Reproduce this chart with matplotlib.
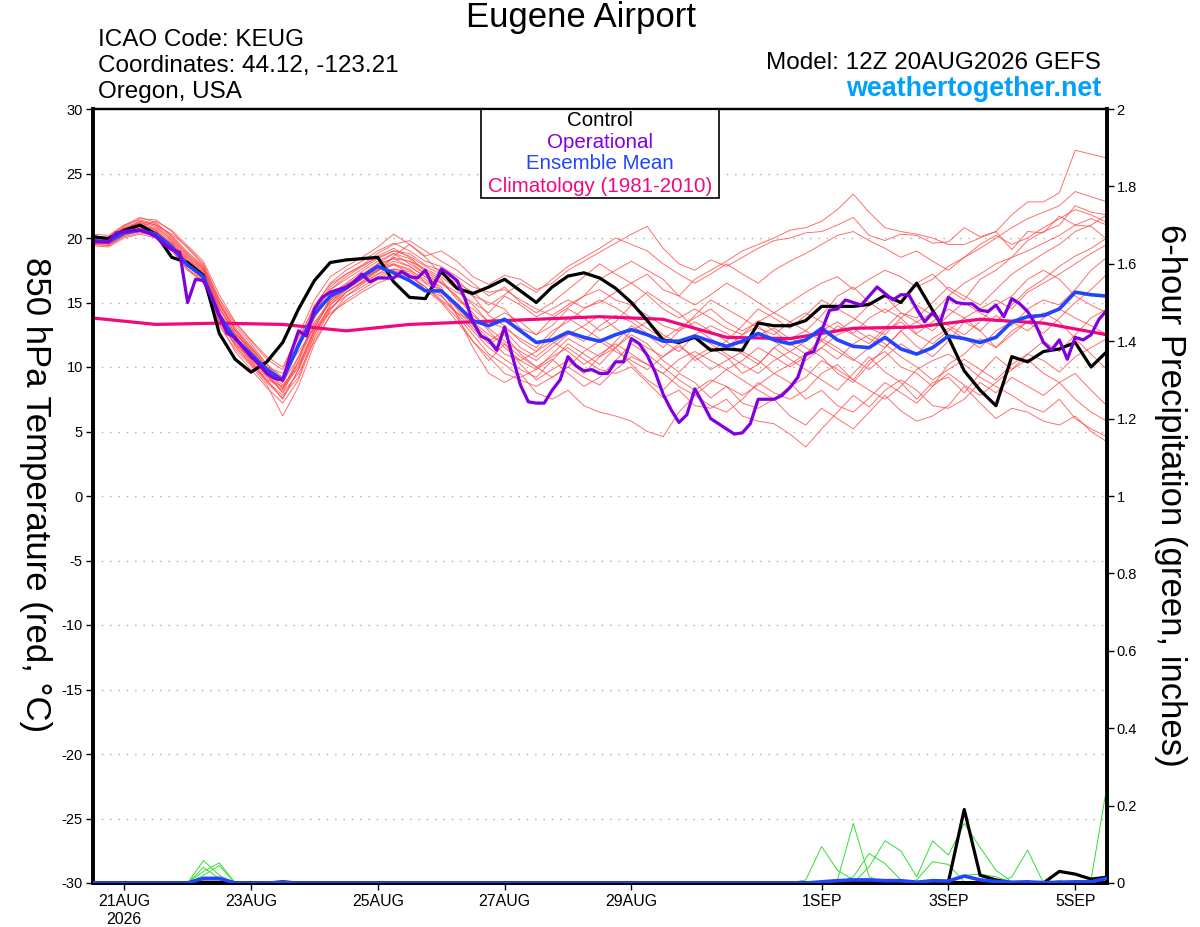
import matplotlib
matplotlib.use("Agg")
import matplotlib.pyplot as plt
from matplotlib.patches import Rectangle

plt.rcParams['font.family'] = ['Liberation Sans', 'DejaVu Sans']

# ---------------- data ----------------
# 6-hourly forecast hours from 12Z 20AUG2026
hours6 = list(range(0, 385, 6))
hours3 = list(range(0, 385, 3))
hours24 = list(range(0, 385, 24))

tick_hours = [12, 60, 108, 156, 204, 276, 324, 372]
tick_labels = ["21AUG\n2026", "23AUG", "25AUG", "27AUG", "29AUG", "1SEP", "3SEP", "5SEP"]

control_t = [20.1, 19.95, 20.6, 21.0, 20.3, 18.5, 18.1, 17.1, 12.6, 10.6, 9.6, 10.4, 11.9,
             14.5, 16.7, 18.1, 18.3, 18.4, 18.5, 16.6, 15.4, 15.3, 17.4, 16.1, 15.7,
             16.2, 16.8, 15.9, 15.0, 16.2, 17.05, 17.3, 16.9, 16.1, 15.0, 13.6, 12.1,
             11.9, 12.3, 11.3, 11.4, 11.3, 13.4, 13.2, 13.2, 13.6, 14.7, 14.7, 14.7,
             14.85, 15.55, 15.0, 16.5, 14.4, 12.3, 9.7, 8.2, 7.0, 10.8, 10.4, 11.2,
             11.4, 11.9, 10.0, 11.2]

mean_t = [19.8, 19.7, 20.4, 20.6, 20.3, 19.3, 17.9, 17.0, 14.0, 12.2, 11.0, 9.8, 9.0,
          11.7, 14.1, 15.5, 16.1, 17.0, 17.8, 17.3, 16.7, 15.9, 15.9, 14.8, 13.6,
          13.2, 13.7, 12.8, 11.9, 12.1, 12.7, 12.3, 12.0, 12.5, 12.9, 12.5, 12.0,
          12.0, 12.4, 12.0, 11.6, 12.0, 12.6, 12.1, 11.8, 12.1, 13.0, 12.1, 11.6,
          11.5, 12.3, 11.4, 11.0, 11.5, 12.4, 12.2, 11.9, 12.3, 13.5, 13.9, 14.0,
          14.5, 15.8, 15.6, 15.5]

operational_t = [19.7, 19.7, 19.7, 20.4, 20.5, 20.6, 20.6, 20.4, 20.1, 19.5, 19.1, 18.9,
                 15.0, 16.8, 16.7, 15.5, 14.0, 12.6, 12.3, 11.5, 10.8, 10.2, 9.5, 9.1,
                 9.0, 11.0, 12.8, 12.4, 14.5, 15.4, 15.8, 16.0, 16.2, 16.6, 17.2, 16.6,
                 16.9, 16.9, 16.9, 17.4, 17.0, 16.9, 17.5, 16.2, 17.6, 17.2, 16.7, 15.3,
                 13.5, 12.4, 12.1, 11.3, 13.1, 10.8, 8.6, 7.3, 7.2, 7.2, 8.2, 9.0,
                 10.8, 10.1, 9.7, 9.8, 9.5, 9.5, 10.4, 10.4, 12.2, 11.8, 10.9, 9.6,
                 7.9, 6.7, 5.7, 6.3, 8.3, 7.2, 6.0, 5.6, 5.2, 4.8, 4.9, 5.6,
                 7.5, 7.5, 7.5, 7.8, 8.4, 9.2, 11.0, 11.2, 12.8, 14.4, 14.5, 15.2,
                 15.0, 14.8, 15.5, 16.2, 15.7, 15.2, 15.6, 15.6, 14.5, 13.5, 14.2, 13.5,
                 15.4, 15.0, 14.9, 14.9, 14.4, 14.3, 14.8, 13.9, 15.3, 14.9, 14.3, 13.3,
                 11.9, 11.3, 12.1, 10.6, 12.3, 12.1, 12.5, 13.7, 14.4]

climatology_t = [13.8, 13.3, 13.4, 13.3, 12.8, 13.3, 13.5, 13.7, 13.9, 13.7, 12.3, 12.2,
                 13.0, 13.1, 13.7, 13.4, 12.5]

m01 = [20.1, 19.9, 20.8, 21.2, 20.9, 19.8, 18.5, 17.5, 14.8, 12.8, 11.2, 9.5, 8.0,
       10.5, 13.8, 15.6, 16.5, 17.4, 18.2, 18.8, 18.0, 17.2, 16.5, 15.8, 15.0,
       14.2, 15.5, 14.8, 13.9, 14.5, 15.2, 14.6, 15.0, 15.8, 16.5, 17.2, 16.0, 15.5, 16.8, 17.5, 18.2, 19.0, 19.5, 20.0, 20.6,
       20.8, 21.3, 22.2, 23.4, 22.0, 20.8, 20.5, 20.3, 20.0, 19.5, 19.5, 20.0, 20.5, 21.8, 22.8, 22.8, 23.5, 26.8, 26.5, 26.2]
m02 = [19.8, 19.6, 20.5, 20.9, 21.3, 20.6, 19.4, 18.2, 15.6, 13.5, 12.1, 10.8, 10.0,
       12.5, 15.2, 17.0, 17.8, 18.5, 19.3, 20.3, 19.5, 18.6, 19.0, 18.2, 17.0,
       16.4, 17.1, 16.8, 16.0, 16.5, 17.5, 18.2, 18.9, 19.6, 20.3, 20.9, 19.2, 18.0, 17.5, 18.3, 17.8, 18.5, 19.2, 19.8, 20.0,
       20.4, 20.5, 21.0, 21.6, 20.2, 19.8, 20.3, 20.2, 19.6, 19.7, 20.8, 20.1, 20.5, 19.1, 20.5, 20.4, 21.7, 21.0, 20.9, 19.9]
m03 = [19.5, 19.4, 20.1, 20.4, 20.2, 19.1, 17.6, 16.5, 13.2, 11.4, 10.1, 8.6, 6.2,
       8.5, 11.8, 14.0, 15.2, 16.0, 16.8, 17.5, 17.0, 16.2, 15.1, 13.8, 12.0,
       10.5, 11.8, 10.2, 9.0, 9.8, 10.5, 9.5, 10.8, 11.5, 10.2, 9.0, 8.2, 9.5, 8.8, 7.6, 8.5, 7.2, 6.8, 7.5, 6.2,
       5.5, 6.8, 6.0, 5.2, 6.5, 7.8, 6.6, 5.8, 6.2, 7.0, 8.5, 7.2, 6.0, 6.8, 6.5, 5.8, 5.5, 6.2, 5.0, 4.2]
m04 = [20.0, 19.8, 20.6, 21.0, 20.4, 19.5, 18.2, 17.2, 14.0, 12.0, 10.5, 9.0, 7.5,
       9.8, 12.5, 14.8, 16.0, 16.9, 17.6, 18.0, 17.6, 16.6, 16.0, 14.5, 13.0,
       11.8, 12.5, 11.0, 10.0, 10.8, 11.5, 10.6, 9.8, 9.5, 10.0, 8.8, 7.6, 8.2, 7.0, 6.8, 7.5, 6.2, 5.8, 5.6, 4.8,
       3.8, 5.2, 6.5, 7.8, 6.9, 8.2, 9.0, 8.2, 7.0, 6.8, 7.5, 8.8, 8.0, 9.2, 8.5, 7.8, 8.8, 9.5, 8.2, 7.0]
m05 = [19.7, 19.5, 20.3, 20.8, 20.5, 19.6, 18.0, 16.8, 13.5, 11.8, 10.6, 9.2, 8.2,
       10.8, 13.5, 15.0, 16.2, 17.0, 18.0, 18.4, 17.8, 17.0, 16.2, 14.0, 11.5,
       9.5, 8.8, 9.5, 8.0, 7.5, 8.2, 7.0, 6.5, 6.2, 5.8, 5.0, 4.6, 6.5, 7.8, 7.0, 6.5, 7.5, 8.8, 8.0, 7.5,
       8.2, 9.5, 10.2, 9.0, 10.5, 11.2, 10.0, 9.5, 8.5, 10.2, 11.0, 12.2, 11.5, 12.8, 13.5, 12.6, 13.8, 15.0, 16.0, 17.2]
m06 = [19.9, 20.0, 20.9, 21.5, 21.4, 20.5, 19.2, 17.9, 15.2, 13.2, 11.8, 10.2, 9.2,
       12.0, 14.8, 16.4, 17.2, 17.8, 18.5, 19.0, 18.8, 17.9, 17.5, 16.2, 15.5,
       15.0, 14.5, 13.0, 12.5, 13.8, 14.6, 15.5, 16.0, 15.2, 14.8, 14.0, 13.2, 12.8, 14.0, 15.2, 14.5, 13.8, 13.0, 12.5, 13.5,
       14.2, 13.5, 12.8, 13.6, 14.8, 15.5, 14.2, 13.8, 15.0, 16.2, 15.5, 14.8, 16.0, 17.2, 18.0, 18.8, 19.5, 20.5, 21.0, 21.8]
m07 = [19.6, 19.7, 20.4, 20.7, 20.8, 19.9, 18.6, 17.6, 14.5, 12.5, 11.5, 10.0, 9.5,
       11.2, 13.0, 15.2, 16.0, 16.8, 17.5, 18.6, 19.5, 18.5, 17.2, 16.8, 15.5,
       14.0, 13.2, 12.0, 11.2, 12.5, 13.8, 13.0, 12.2, 11.5, 12.8, 13.5, 12.5, 11.8, 10.5, 11.2, 12.0, 11.0, 10.2, 11.5, 12.3,
       11.5, 10.8, 9.5, 8.8, 10.2, 11.5, 12.8, 11.6, 10.8, 12.0, 13.5, 12.8, 14.0, 13.2, 14.5, 15.2, 14.8, 16.0, 17.5, 18.5]
m08 = [20.2, 20.0, 20.7, 21.1, 20.6, 19.4, 17.8, 16.8, 13.8, 11.6, 10.2, 9.0, 8.5,
       10.0, 12.8, 14.6, 15.5, 16.4, 17.2, 18.0, 17.2, 16.0, 15.5, 14.2, 12.8,
       11.5, 10.6, 9.8, 9.2, 10.5, 11.8, 11.0, 10.2, 11.5, 12.5, 11.8, 10.5, 9.6, 10.8, 11.5, 10.8, 9.5, 10.2, 11.5, 10.6,
       9.8, 9.0, 8.2, 9.5, 10.8, 9.6, 8.8, 7.5, 8.8, 9.2, 8.0, 9.5, 10.8, 9.8, 11.0, 12.0, 11.2, 12.5, 13.8, 14.5]
m09 = [19.8, 19.5, 20.2, 20.6, 20.1, 19.0, 17.5, 16.6, 13.4, 11.2, 9.8, 8.4, 7.2,
       9.0, 12.2, 14.4, 15.8, 16.6, 17.5, 17.9, 17.5, 16.8, 15.8, 14.8, 13.2,
       12.0, 12.8, 11.5, 10.8, 11.8, 12.6, 12.0, 13.2, 14.0, 13.5, 12.6, 12.0, 11.2, 12.5, 13.2, 12.6, 11.8, 12.5, 13.0, 12.2,
       12.8, 14.0, 15.5, 16.2, 15.0, 14.2, 15.0, 16.5, 17.2, 16.0, 15.2, 16.8, 17.5, 18.5, 19.8, 20.5, 21.0, 22.5, 22.0, 21.8]
m10 = [20.0, 20.1, 21.0, 21.6, 21.2, 20.1, 18.8, 17.7, 15.0, 12.9, 11.5, 10.0, 8.8,
       11.5, 14.2, 16.0, 17.0, 17.8, 18.6, 19.2, 18.5, 17.5, 16.8, 15.2, 14.5,
       13.5, 13.0, 12.2, 11.5, 12.8, 13.5, 14.5, 15.2, 14.6, 13.8, 13.0, 12.2, 13.0, 13.8, 14.5, 13.5, 12.8, 13.5, 14.2, 15.0,
       15.8, 16.5, 17.0, 16.0, 16.8, 17.5, 17.0, 16.2, 16.8, 17.8, 18.5, 19.2, 20.0, 20.8, 21.5, 22.0, 22.5, 23.6, 23.2, 22.8]
m11 = [19.4, 19.3, 20.0, 20.3, 20.0, 19.2, 17.8, 16.9, 14.2, 12.4, 11.0, 9.6, 8.6,
       10.2, 12.8, 14.2, 15.0, 15.8, 16.5, 17.0, 16.8, 16.0, 15.0, 13.5, 12.0,
       10.8, 9.5, 9.0, 8.5, 9.2, 10.0, 9.2, 8.6, 9.8, 10.8, 10.2, 9.5, 10.6, 11.2, 10.5, 9.8, 10.5, 11.5, 10.8, 10.0,
       10.8, 11.5, 10.6, 11.8, 12.5, 11.8, 10.8, 10.0, 9.0, 9.8, 10.6, 9.8, 9.0, 10.2, 11.0, 10.5, 9.6, 10.8, 11.5, 12.2]
m12 = [20.0, 19.8, 20.6, 21.3, 21.0, 20.3, 19.3, 18.0, 15.3, 13.4, 12.0, 10.6, 9.8,
       12.3, 14.6, 16.5, 17.5, 18.2, 19.0, 19.6, 19.0, 18.2, 17.8, 17.0, 16.2,
       15.8, 16.0, 15.2, 14.5, 14.0, 14.8, 15.5, 16.8, 17.5, 18.2, 17.5, 16.8, 15.5, 14.8, 15.6, 16.5, 15.8, 15.0, 14.2, 13.5,
       12.8, 12.0, 11.2, 10.5, 11.5, 12.8, 13.5, 12.5, 11.8, 12.8, 13.8, 14.5, 15.2, 14.5, 15.8, 16.5, 17.2, 18.0, 18.8, 19.5]
m13 = [19.7, 19.8, 20.5, 21.0, 20.6, 19.5, 18.2, 17.3, 14.3, 12.2, 10.9, 9.4, 8.0,
       9.5, 12.0, 14.0, 15.5, 16.2, 17.0, 17.6, 17.4, 16.5, 15.6, 14.0, 12.5,
       11.0, 10.2, 9.2, 9.8, 10.6, 9.5, 8.5, 9.2, 10.5, 11.8, 11.0, 10.0, 9.0, 8.2, 9.0, 8.5, 7.8, 8.6, 9.5, 8.8,
       7.5, 8.2, 7.0, 6.5, 7.6, 8.8, 8.0, 7.2, 8.5, 9.5, 8.6, 7.8, 8.8, 9.8, 10.6, 9.5, 8.8, 7.5, 6.5, 5.8]
m14 = [20.3, 20.2, 21.0, 21.4, 21.1, 20.2, 18.9, 17.8, 15.0, 13.0, 11.6, 10.2, 9.0,
       11.8, 14.5, 16.2, 17.2, 17.9, 18.8, 19.5, 19.8, 19.0, 18.2, 17.5, 16.5,
       15.5, 16.2, 15.0, 14.2, 15.0, 16.0, 17.0, 18.0, 17.2, 16.5, 15.6, 14.5, 13.8, 14.5, 13.8, 13.0, 12.5, 13.2, 12.0, 11.2,
       10.5, 11.5, 12.5, 13.0, 12.2, 11.5, 12.8, 13.5, 14.2, 15.5, 16.5, 17.2, 18.0, 18.5, 19.0, 19.6, 20.2, 21.0, 21.5, 21.0]
m15 = [19.5, 19.6, 20.3, 20.6, 20.4, 19.6, 18.3, 17.4, 14.6, 12.6, 11.3, 9.8, 8.8,
       10.8, 13.2, 15.0, 16.0, 16.8, 17.5, 18.2, 17.8, 17.0, 16.5, 15.5, 14.2,
       12.8, 11.5, 10.5, 9.8, 11.0, 12.2, 11.5, 10.8, 12.0, 13.2, 12.5, 11.5, 12.8, 13.5, 12.8, 12.0, 13.2, 14.5, 13.8, 13.0,
       14.0, 15.2, 14.5, 13.8, 13.0, 12.5, 13.8, 14.8, 14.0, 13.2, 12.5, 13.5, 14.8, 15.5, 16.8, 17.5, 16.8, 15.5, 14.8, 14.2]
m16 = [19.9, 19.7, 20.4, 20.8, 20.3, 19.3, 18.0, 17.0, 13.9, 11.9, 10.4, 8.9, 7.8,
       9.2, 12.5, 14.5, 15.8, 16.6, 17.4, 18.5, 18.2, 17.2, 16.0, 14.6, 13.4,
       12.2, 11.0, 10.5, 11.2, 12.0, 11.2, 10.2, 11.0, 11.8, 11.0, 10.2, 9.5, 8.5, 7.8, 8.8, 9.8, 9.0, 8.2, 7.5, 8.5,
       9.2, 10.5, 9.8, 9.0, 8.2, 7.5, 8.5, 9.8, 10.5, 11.0, 10.2, 9.2, 8.5, 7.8, 7.0, 6.5, 7.5, 6.0, 5.2, 4.6]
m17 = [20.0, 19.9, 20.7, 21.2, 20.7, 19.7, 18.4, 17.4, 14.6, 12.6, 11.2, 9.8, 8.3,
       10.0, 13.0, 15.2, 16.3, 17.1, 17.9, 18.4, 18.2, 17.6, 17.0, 16.0, 14.8,
       13.5, 14.2, 13.5, 12.5, 13.2, 14.5, 13.8, 12.8, 13.5, 14.8, 15.8, 15.0, 14.2, 13.0, 12.2, 11.5, 12.5, 13.6, 12.8, 11.8,
       11.0, 12.0, 13.2, 12.5, 11.8, 13.0, 14.2, 13.5, 12.8, 14.0, 15.0, 14.2, 13.5, 14.8, 16.0, 16.8, 17.8, 18.6, 19.2, 20.0]
m18 = [19.6, 19.4, 20.2, 20.5, 20.1, 19.2, 17.6, 16.7, 13.6, 11.7, 10.3, 8.8, 7.6,
       9.8, 12.8, 14.8, 15.8, 16.5, 17.2, 17.6, 17.2, 16.2, 15.2, 14.2, 13.5,
       12.5, 11.8, 10.8, 10.0, 9.2, 10.0, 11.2, 12.0, 11.2, 10.5, 9.8, 10.8, 11.6, 10.8, 9.8, 10.5, 11.2, 10.5, 9.5, 10.2,
       11.0, 12.2, 11.5, 10.6, 9.8, 10.8, 11.8, 11.0, 12.2, 13.0, 12.2, 11.5, 12.8, 13.5, 12.8, 13.8, 14.5, 13.8, 13.2, 12.5]
m19 = [20.1, 20.0, 20.8, 21.3, 21.0, 20.0, 18.7, 17.6, 14.9, 12.9, 11.4, 10.0, 9.0,
       11.5, 14.2, 16.0, 16.8, 17.6, 18.4, 19.0, 18.6, 17.8, 17.2, 16.5, 15.8,
       14.8, 15.6, 16.5, 15.8, 16.8, 17.8, 18.5, 19.2, 20.0, 19.5, 19.0, 18.0, 17.2, 16.5, 17.2, 18.0, 17.2, 16.5, 17.5, 18.2,
       18.8, 19.5, 20.2, 20.5, 19.8, 19.2, 18.5, 19.0, 18.2, 17.5, 18.5, 19.5, 20.2, 19.5, 20.0, 20.8, 21.5, 22.2, 21.8, 21.2]
m20 = [19.8, 19.6, 20.4, 20.9, 20.5, 19.5, 18.1, 17.1, 14.2, 12.1, 10.8, 9.3, 8.4,
       10.4, 13.3, 15.3, 16.4, 17.2, 18.0, 18.8, 18.4, 17.4, 16.6, 15.4, 14.0,
       13.0, 12.0, 11.2, 10.5, 11.5, 12.5, 13.2, 14.0, 13.0, 12.2, 11.5, 10.8, 11.8, 12.5, 11.8, 11.0, 10.2, 9.5, 10.5, 11.2,
       12.0, 12.8, 13.5, 12.6, 13.8, 14.5, 13.8, 12.6, 13.5, 14.5, 13.8, 12.8, 11.5, 12.5, 13.5, 14.2, 13.5, 12.2, 11.0, 9.8]
members_t = [m01, m02, m03, m04, m05, m06, m07, m08, m09, m10,
             m11, m12, m13, m14, m15, m16, m17, m18, m19, m20]

# 6-hour precipitation (inches)
p01 = [0, 0, 0, 0, 0, 0, 0, 0.058, 0.020, 0, 0, 0, 0, 0, 0, 0, 0, 0, 0, 0, 0, 0, 0, 0, 0,
       0, 0, 0, 0, 0, 0, 0, 0, 0, 0, 0, 0, 0, 0, 0, 0, 0, 0, 0, 0,
       0.008, 0.094, 0.033, 0.008, 0, 0, 0, 0, 0, 0, 0, 0, 0, 0, 0, 0, 0, 0, 0, 0]
p02 = [0, 0, 0, 0, 0, 0, 0, 0.030, 0.052, 0, 0, 0, 0, 0, 0, 0, 0, 0, 0, 0, 0, 0, 0, 0, 0,
       0, 0, 0, 0, 0, 0, 0, 0, 0, 0, 0, 0, 0, 0, 0, 0, 0, 0, 0, 0,
       0, 0, 0.008, 0.154, 0.016, 0, 0, 0, 0, 0, 0, 0, 0, 0, 0, 0, 0, 0, 0, 0]
p03 = [0, 0, 0, 0, 0, 0, 0, 0.020, 0.045, 0, 0, 0, 0, 0, 0, 0, 0, 0, 0, 0, 0, 0, 0, 0, 0,
       0, 0, 0, 0, 0, 0, 0, 0, 0, 0, 0, 0, 0, 0, 0, 0, 0, 0, 0, 0,
       0, 0, 0, 0.016, 0.076, 0.050, 0.008, 0, 0, 0, 0, 0, 0, 0, 0, 0, 0, 0, 0, 0]
p04 = [0, 0, 0, 0, 0, 0, 0, 0.040, 0.012, 0, 0, 0, 0, 0, 0, 0, 0, 0, 0, 0, 0, 0, 0, 0, 0,
       0, 0, 0, 0, 0, 0, 0, 0, 0, 0, 0, 0, 0, 0, 0, 0, 0, 0, 0, 0,
       0, 0, 0, 0, 0.042, 0.109, 0.083, 0.016, 0.109, 0.072, 0.154, 0.092, 0.033, 0.003, 0, 0, 0, 0, 0, 0]
p05 = [0, 0, 0, 0, 0, 0, 0, 0, 0, 0, 0, 0, 0.004, 0, 0, 0, 0, 0, 0, 0, 0, 0, 0, 0, 0,
       0, 0, 0, 0, 0, 0, 0, 0, 0, 0, 0, 0, 0, 0, 0, 0, 0, 0, 0, 0,
       0, 0, 0, 0, 0, 0, 0, 0.008, 0.055, 0.048, 0.003, 0, 0, 0, 0, 0, 0, 0, 0, 0]
p06 = [0, 0, 0, 0, 0, 0, 0, 0, 0, 0, 0, 0, 0, 0, 0, 0, 0, 0, 0, 0, 0, 0, 0, 0, 0,
       0, 0, 0, 0, 0, 0, 0, 0, 0, 0, 0, 0, 0, 0, 0, 0, 0, 0, 0, 0,
       0, 0, 0, 0, 0, 0, 0, 0, 0, 0, 0.020, 0.023, 0.016, 0.002, 0, 0, 0, 0, 0, 0]
p07 = [0, 0, 0, 0, 0, 0, 0, 0, 0, 0, 0, 0, 0, 0, 0, 0, 0, 0, 0, 0, 0, 0, 0, 0, 0,
       0, 0, 0, 0, 0, 0, 0, 0, 0, 0, 0, 0, 0, 0, 0, 0, 0, 0, 0, 0,
       0, 0, 0, 0, 0, 0, 0, 0, 0, 0, 0, 0, 0, 0.016, 0.085, 0, 0.006, 0, 0, 0]
p08 = [0, 0, 0, 0, 0, 0, 0, 0, 0, 0, 0, 0, 0, 0, 0, 0, 0, 0, 0, 0, 0, 0, 0, 0, 0,
       0, 0, 0, 0, 0, 0, 0, 0, 0, 0, 0, 0, 0, 0, 0, 0, 0, 0, 0, 0,
       0, 0, 0, 0, 0, 0, 0, 0, 0, 0, 0, 0, 0, 0, 0, 0, 0, 0, 0.008, 0.250]
members_p = [p01, p02, p03, p04, p05, p06, p07, p08]

control_p = [0, 0, 0, 0, 0, 0, 0, 0.002, 0.002, 0, 0, 0, 0.003, 0, 0, 0, 0, 0, 0, 0, 0, 0, 0, 0, 0,
             0, 0, 0, 0, 0, 0, 0, 0, 0, 0, 0, 0, 0, 0, 0, 0, 0, 0, 0, 0,
             0, 0, 0, 0, 0, 0, 0, 0, 0, 0.003, 0.190, 0.020, 0.008, 0, 0, 0, 0.030, 0.023, 0.010, 0.015]
mean_p = [0, 0, 0, 0, 0, 0, 0, 0.012, 0.012, 0, 0, 0, 0.001, 0, 0, 0, 0, 0, 0, 0, 0, 0, 0, 0, 0,
          0, 0, 0, 0, 0, 0, 0, 0, 0, 0, 0, 0, 0, 0, 0, 0, 0, 0, 0, 0,
          0, 0.003, 0.006, 0.008, 0.008, 0.006, 0.006, 0.002, 0.006, 0.005, 0.018, 0.008, 0.004, 0.002,
          0.003, 0.001, 0.002, 0.003, 0.003, 0.012]

# ---------------- styling ----------------
RED = '#ff4a4a'
GREEN = '#33dd33'
PURPLE = '#8000e0'
BLUE = '#2244ff'
MAGENTA = '#f0087f'

fig = plt.figure(figsize=(12, 9.27), dpi=100)
ax = fig.add_axes([92.5 / 1200, 44 / 927, 1014.4 / 1200, 774 / 927])
ax2 = ax.twinx()

for m in members_t:
    ax.plot(hours6, m, color=RED, lw=0.65, alpha=0.85, zorder=2)
ax.plot(hours24, climatology_t, color=MAGENTA, lw=2.3, zorder=3)
ax.plot(hours6, control_t, color='black', lw=2.3, zorder=4)
ax.plot(hours6, mean_t, color=BLUE, lw=2.6, zorder=5)
ax.plot(hours3, operational_t, color=PURPLE, lw=2.3, zorder=6)

for p in members_p:
    ax2.plot(hours6, p, color=GREEN, lw=0.7, zorder=2)
ax2.plot(hours6, control_p, color='black', lw=2.3, zorder=4)
ax2.plot(hours6, mean_p, color=BLUE, lw=2.6, zorder=5)

ax.set_xlim(0, 384)
ax.set_ylim(-30, 30)
ax2.set_ylim(0, 2)
ax.set_yticks(range(-30, 31, 5))
ax.set_yticklabels([str(v) for v in range(-30, 31, 5)])
ax2.set_yticks([i * 0.2 for i in range(11)])
ax2.set_yticklabels(['0', '0.2', '0.4', '0.6', '0.8', '1', '1.2', '1.4', '1.6', '1.8', '2'])
ax.set_xticks(tick_hours)
ax.set_xticklabels(tick_labels)

for v in range(-25, 30, 5):
    ax.axhline(v, color='#aaaaaa', lw=1.0, ls=(0, (1, 5)), zorder=1)

ax.tick_params(axis='y', direction='out', length=5, width=1, labelsize=10.5, pad=2)
ax2.tick_params(axis='y', direction='out', length=5, width=1, labelsize=10.5, pad=2)
ax.tick_params(axis='x', direction='out', length=5, width=1, labelsize=11.4, pad=3)
for a in (ax, ax2):
    a.spines['left'].set_linewidth(2.6)
    a.spines['right'].set_linewidth(2.6)
    a.spines['bottom'].set_linewidth(2.8)
    a.spines['top'].set_linewidth(1.6)

# legend box
ax.add_patch(Rectangle((0.383, 0.885), 0.2346, 0.115, transform=ax.transAxes,
                       facecolor='white', edgecolor='black', lw=1.2, zorder=10, clip_on=False))
leg_items = [("Control", 'black', 0.9845), ("Operational", PURPLE, 0.957),
             ("Ensemble Mean", BLUE, 0.929), ("Climatology (1981-2010)", MAGENTA, 0.9005)]
for txt, col, yy in leg_items:
    ax.text(0.5003, yy, txt, color=col, fontsize=14.8, ha='center', va='center',
            transform=ax.transAxes, zorder=11)

# headers
def ftext(x, y, s, **kw):
    fig.text(x / 1200, 1 - y / 927, s, **kw)

ftext(581, 18, "Eugene Airport", fontsize=25, ha='center', va='center')
ftext(98, 40, "ICAO Code: KEUG", fontsize=17.5, ha='left', va='center')
ftext(98, 66, "Coordinates: 44.12, -123.21", fontsize=17.5, ha='left', va='center')
ftext(98, 92, "Oregon, USA", fontsize=17.5, ha='left', va='center')
ftext(1101, 63, "Model: 12Z 20AUG2026 GEFS", fontsize=17.5, ha='right', va='center')
ftext(1101, 89, "weathertogether.net", fontsize=19.4, ha='right', va='center',
      fontweight='bold', color='#00a0ff')
ftext(35, 495, "850 hPa Temperature (red, °C)", fontsize=25, rotation=270,
      ha='center', va='center')
ftext(1170, 495, "6-hour Precipitation (green, inches)", fontsize=25, rotation=270,
      ha='center', va='center')

fig.savefig("out.png", dpi=100)
